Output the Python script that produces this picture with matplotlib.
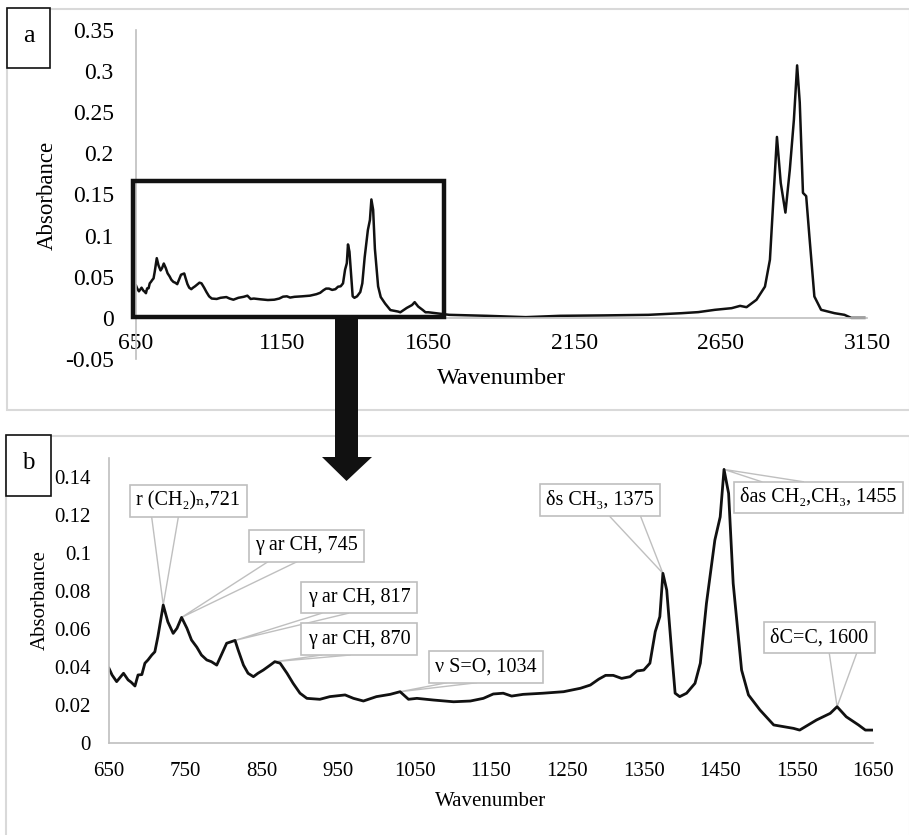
import numpy as np
import matplotlib
matplotlib.use("Agg")
import matplotlib.pyplot as plt
from matplotlib.patches import Rectangle, Polygon

plt.rcParams['font.family'] = ['Liberation Serif', 'DejaVu Serif', 'DejaVu Sans']

# ---------------- data ----------------
wavenumber = [650, 654, 660, 669, 675, 679, 684, 688, 693, 697, 701, 706, 710, 714, 721, 727,
              734, 739, 745, 752, 758, 765, 771, 778, 784, 791, 797, 804, 810, 815, 819, 826,
              832, 839, 845, 852, 861, 867, 874, 883, 891, 900, 909, 926, 939, 959, 970, 983,
              1000, 1018, 1031, 1042, 1053, 1075, 1101, 1123, 1140, 1153, 1166, 1177, 1192,
              1218, 1245, 1267, 1280, 1291, 1300, 1310, 1321, 1332, 1341, 1350, 1358, 1365,
              1371, 1375, 1380, 1387, 1391, 1397, 1406, 1417, 1424, 1432, 1443, 1450, 1455,
              1461, 1467, 1478, 1487, 1502, 1520, 1546, 1554, 1576, 1594, 1603, 1615, 1631,
              1640, 1650, 1721, 1850, 1983, 2100, 2250, 2403, 2516, 2573, 2630, 2687, 2716,
              2738, 2772, 2801, 2818, 2829, 2842, 2855, 2871, 2886, 2900, 2911, 2920, 2931,
              2942, 2953, 2970, 2993, 3039, 3073, 3096, 3141]
absorbance = [0.0393, 0.0358, 0.0323, 0.0367, 0.0332, 0.0320, 0.0300, 0.0358, 0.0360, 0.0420,
              0.0437, 0.0463, 0.0480, 0.0560, 0.0726, 0.0638, 0.0577, 0.0604, 0.0661, 0.0604,
              0.0542, 0.0504, 0.0463, 0.0437, 0.0428, 0.0410, 0.0463, 0.0525, 0.0533, 0.0540,
              0.0490, 0.0410, 0.0367, 0.0349, 0.0367, 0.0384, 0.0410, 0.0428, 0.0420, 0.0367,
              0.0314, 0.0262, 0.0235, 0.0230, 0.0244, 0.0253, 0.0235, 0.0221, 0.0244, 0.0256,
              0.0270, 0.0230, 0.0235, 0.0226, 0.0217, 0.0221, 0.0235, 0.0258, 0.0262, 0.0247,
              0.0256, 0.0262, 0.0270, 0.0288, 0.0305, 0.0336, 0.0356, 0.0356, 0.0340, 0.0349,
              0.0379, 0.0384, 0.0420, 0.0586, 0.0665, 0.0893, 0.0805, 0.0454, 0.0262, 0.0244,
              0.0262, 0.0314, 0.0420, 0.0735, 0.1068, 0.1190, 0.1440, 0.1314, 0.0840, 0.0384,
              0.0253, 0.0174, 0.0095, 0.0077, 0.0068, 0.0121, 0.0156, 0.0191, 0.0138, 0.0095,
              0.0068, 0.0068, 0.0037, 0.0025, 0.0009, 0.0025, 0.0030, 0.0037, 0.0057, 0.0070,
              0.0098, 0.0118, 0.0146, 0.0130, 0.0220, 0.0380, 0.0707, 0.1400, 0.2200, 0.1640,
              0.1280, 0.1800, 0.2410, 0.3070, 0.2620, 0.1520, 0.1480, 0.0990, 0.0260, 0.0098,
              0.0057, 0.0037, 0.0000, 0.0000]

xticks_a = [650, 1150, 1650, 2150, 2650, 3150]
yticks_a = [-0.05, 0, 0.05, 0.1, 0.15, 0.2, 0.25, 0.3, 0.35]
yticklabels_a = ['-0.05', '0', '0.05', '0.1', '0.15', '0.2', '0.25', '0.3', '0.35']
xticks_b = [650, 750, 850, 950, 1050, 1150, 1250, 1350, 1450, 1550, 1650]
yticks_b = [0, 0.02, 0.04, 0.06, 0.08, 0.1, 0.12, 0.14]
yticklabels_b = ['0', '0.02', '0.04', '0.06', '0.08', '0.1', '0.12', '0.14']

ann_labels = ['r (CH\u2082)\u2099,721', '\u03b3 ar CH, 745', '\u03b3 ar CH, 817', '\u03b3 ar CH, 870',
              '\u03bd S=O, 1034', '\u03b4s CH\u2083, 1375', '\u03b4as CH\u2082,CH\u2083, 1455',
              '\u03b4C=C, 1600']
ann_peaks = [721, 745, 815, 867, 1031, 1375, 1455, 1603]

wn = np.array(wavenumber, dtype=float)
ab = np.array(absorbance, dtype=float)

W, H = 909, 835
fig = plt.figure(figsize=(W / 100, H / 100), dpi=100)

def fx(px):
    return px / W

def fy(py):
    return 1 - py / H

GRAY = '#bfbfbf'

# panel frames
fig.patches.append(Rectangle((fx(7), fy(410)), fx(910 - 7), (410 - 9) / H, transform=fig.transFigure,
                             fill=False, ec='#d9d9d9', lw=1.5, zorder=0))
fig.patches.append(Rectangle((fx(6), fy(845)), fx(910 - 6), (845 - 436) / H, transform=fig.transFigure,
                             fill=False, ec='#d9d9d9', lw=1.5, zorder=0))

# ---------------- panel a ----------------
axa = fig.add_axes([fx(136), fy(359), fx(867 - 136), (359 - 30) / H])
axa.plot(wn, ab, color='#111111', lw=1.8)
axa.set_xlim(650, 3150)
axa.set_ylim(-0.05, 0.35)
axa.set_xticks(xticks_a)
axa.set_xticklabels([str(t) for t in xticks_a])
axa.set_yticks(yticks_a)
axa.set_yticklabels(yticklabels_a)
for s in ['top', 'right']:
    axa.spines[s].set_visible(False)
axa.spines['bottom'].set_position(('data', 0))
for s in ['left', 'bottom']:
    axa.spines[s].set_color(GRAY)
    axa.spines[s].set_linewidth(1.2)
axa.tick_params(axis='both', length=0, labelsize=17)
axa.tick_params(axis='y', pad=16)
axa.tick_params(axis='x', pad=11)
axa.patch.set_alpha(0)
# zoom rectangle
axa.add_patch(Rectangle((641, 0.0015), 1704 - 641, 0.167 - 0.0015, fill=False, ec='#111111', lw=3.2,
                        zorder=5, clip_on=False))

fig.text(fx(47), fy(195), 'Absorbance', rotation=90, ha='center', va='center', fontsize=16.5)
fig.text(fx(501), fy(378), 'Wavenumber', ha='center', va='center', fontsize=17.5)

# ---------------- panel b ----------------
axb = fig.add_axes([fx(109), fy(743), fx(873 - 109), (743 - 458) / H])
m = wn <= 1650
axb.plot(wn[m], ab[m], color='#111111', lw=2.0)
axb.set_xlim(650, 1650)
axb.set_ylim(0, 0.15)
axb.set_xticks(xticks_b)
axb.set_xticklabels([str(t) for t in xticks_b])
axb.set_yticks(yticks_b)
axb.set_yticklabels(yticklabels_b)
for s in ['top', 'right']:
    axb.spines[s].set_visible(False)
for s in ['left', 'bottom']:
    axb.spines[s].set_color(GRAY)
    axb.spines[s].set_linewidth(1.2)
axb.tick_params(axis='both', length=0, labelsize=15)
axb.tick_params(axis='y', pad=13)
axb.tick_params(axis='x', pad=14)
axb.patch.set_alpha(0)

fig.text(fx(40), fy(600), 'Absorbance', rotation=90, ha='center', va='center', fontsize=15)
fig.text(fx(491), fy(802), 'Wavenumber', ha='center', va='center', fontsize=15)

# callouts: (box centre x, y), wedge base x1, x2, base y
box_pos = [(753.8, 0.1273), (908.5, 0.1037), (977.5, 0.0766), (977.5, 0.0546),
           (1143.5, 0.0399), (1292.7, 0.1277), (1578.4, 0.1292), (1579.6, 0.0555)]
wedges = [(705.9, 740.7, 0.1188), (858, 896, 0.0954), (928.4, 963.2, 0.0683), (928.4, 965.4, 0.0463),
          (1092, 1131, 0.0317), (1305.8, 1346, 0.1191), (1504.3, 1558.8, 0.1375), (1592.8, 1628.6, 0.0472)]
for lab, pk, (bx, by), (w1, w2, wy) in zip(ann_labels, ann_peaks, box_pos, wedges):
    py_ = float(np.interp(pk, wn, ab))
    axb.plot([w1, pk, w2], [wy, py_, wy], color=GRAY, lw=1.0, zorder=1, clip_on=False)
    axb.text(bx, by, lab, ha='center', va='center', fontsize=14.5, zorder=4,
             bbox=dict(boxstyle='square,pad=0.32', fc='white', ec=GRAY, lw=1.2))

# arrow between panels
arrow_px = [(335, 318), (358, 318), (358, 457), (372, 457), (346.5, 481), (322, 457), (335, 457)]
fig.patches.append(Polygon([(fx(x), fy(y)) for x, y in arrow_px], closed=True,
                           transform=fig.transFigure, fc='#111111', ec='none', zorder=6))

# panel letters
fig.patches.append(Rectangle((fx(7), fy(68)), fx(50 - 7), (68 - 8) / H, transform=fig.transFigure,
                             fill=True, fc='white', ec='#111111', lw=1.2, zorder=3))
fig.text(fx(28.5), fy(36), 'a', ha='center', va='center', fontsize=19, zorder=4)
fig.patches.append(Rectangle((fx(6), fy(496)), fx(51 - 6), (496 - 435) / H, transform=fig.transFigure,
                             fill=True, fc='white', ec='#111111', lw=1.2, zorder=3))
fig.text(fx(28.5), fy(463), 'b', ha='center', va='center', fontsize=18, zorder=4)

fig.savefig('out.png', dpi=100)
